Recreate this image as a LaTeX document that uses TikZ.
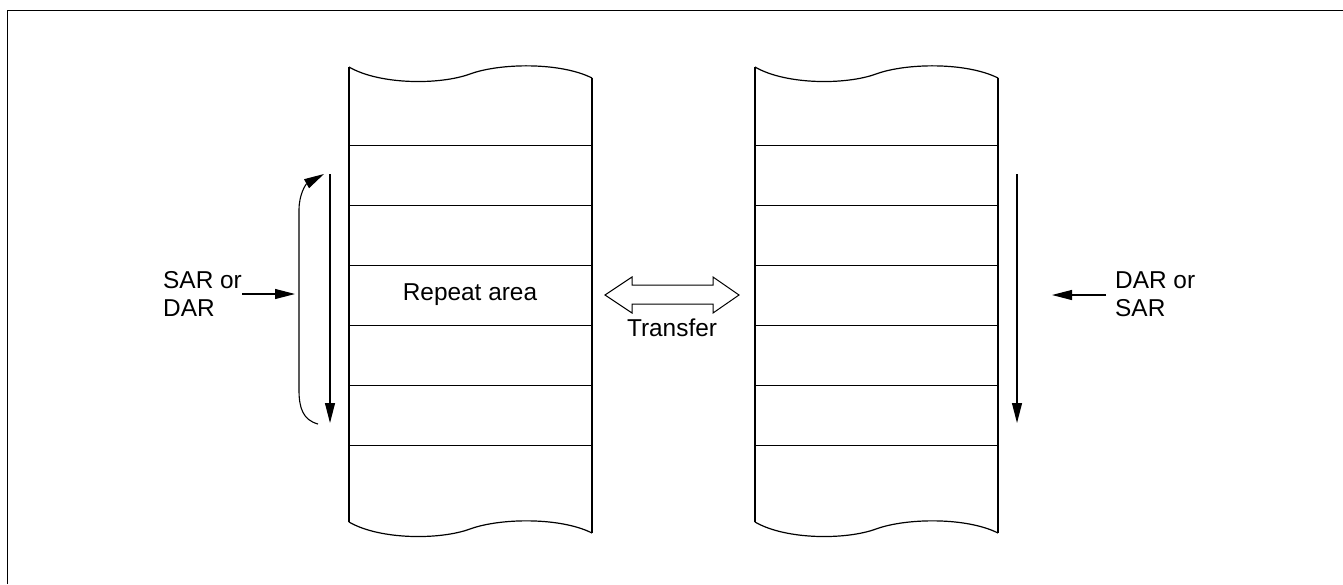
\documentclass[tikz,border=0pt]{standalone}
\usepackage{fontspec}
\setmainfont{Liberation Sans}
\usetikzlibrary{arrows.meta}
\begin{document}
\begin{tikzpicture}[x=1pt,y=-1pt,
  line/.style={line width=1.2pt,black},
  thin line/.style={line width=1pt,black},
  arr/.style={line width=1.1pt,-{Triangle[length=20pt,width=10pt]}},
  lbl/.style={font=\fontsize{24.4}{28}\selectfont,inner sep=0pt,align=left}]
\useasboundingbox (0,0) rectangle (1343,584);
\coordinate (f1) at (7.5,584);
\coordinate (f2) at (7.5,10.5);
\coordinate (f3) at (1343,10.5);
\draw[thin line] (f1) -- (f2) -- (f3);
% columns
\foreach \dx/\nm in {0/L,406/R}{
  \begin{scope}[xshift=\dx pt]
    \draw[line] (349,67) .. controls (380,85) and (440,85) .. (470,74)
       .. controls (500,63) and (560,62) .. (592,78);
    \draw[line] (349,522) .. controls (380,540) and (440,540) .. (470,529)
       .. controls (500,518) and (560,517) .. (592,533);
    \draw[line] (349,67) -- (349,522);
    \draw[line] (592,78) -- (592,533);
    \foreach \yy in {145,205,265,325,385,445}
      \draw[thin line] (349,\yy) -- (592,\yy);
    \coordinate (\nm west) at (349,295);
  \end{scope}
}
\node[lbl] (rep) at (470,295) {Repeat area};
% left side arrows
\coordinate (ld1) at (330,174);
\coordinate (ld2) at (330,423);
\draw[arr] (ld1) -- (ld2);
\coordinate (lc1) at (318,424);
\coordinate (lc2) at (324,174);
\draw[arr] (lc1) .. controls (303,420) and (299,408) .. (299,390) -- (299,210)
   .. controls (299,194) and (306,184) .. (lc2);
\node[lbl,anchor=west] (sar) at (163,294) {SAR or\\DAR};
\coordinate (la1) at (242,294);
\coordinate (la2) at (295,294);
\draw[arr] (la1) -- (la2);
% right side arrows
\coordinate (rd1) at (1017,174);
\coordinate (rd2) at (1017,423);
\draw[arr] (rd1) -- (rd2);
\node[lbl,anchor=west] (dar) at (1115,294) {DAR or\\SAR};
\coordinate (ra1) at (1106,295);
\coordinate (ra2) at (1052,295);
\draw[arr] (ra1) -- (ra2);
% transfer arrow
\draw[thin line] (605,295) -- (632,277) -- (632,285) -- (713,285) -- (713,277)
  -- (739,295) -- (713,313) -- (713,304) -- (632,304) -- (632,313) -- cycle;
\node[lbl] (tr) at (672,328) {Transfer};
\end{tikzpicture}
\end{document}
